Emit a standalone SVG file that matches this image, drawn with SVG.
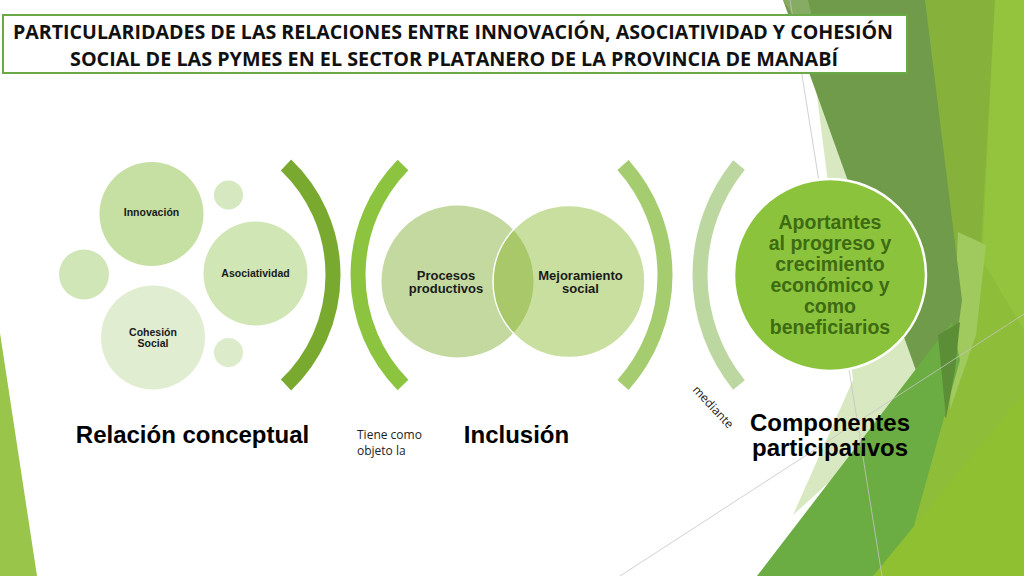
<svg xmlns="http://www.w3.org/2000/svg" width="1024" height="576" viewBox="0 0 1024 576">
  <defs>
    <style>
      .lbl { font-family: "Liberation Sans", Arial, sans-serif; font-weight: bold; fill: #1a1a1a; text-anchor: middle; }
      .big { font-family: "Liberation Sans", Arial, sans-serif; font-weight: bold; fill: #000; text-anchor: middle; font-size: 24px; }
      .small { font-family: "Open Sans", "DejaVu Sans", sans-serif; fill: #222; font-size: 12px; }
      .title { font-family: "Open Sans", "DejaVu Sans", sans-serif; font-weight: bold; fill: #111; font-size: 19.5px; }
      .arc { fill: none; stroke-width: 15; stroke-linecap: butt; }
      .bgline { stroke: #c4c4c4; stroke-width: 0.8; fill: none; }
    </style>
    <clipPath id="clipProc">
      <circle cx="457.5" cy="281.5" r="76"/>
    </clipPath>
  </defs>

  <rect width="1024" height="576" fill="#ffffff"/>

  <g id="background">
    <polygon points="0,333 37,576 0,576" fill="#98c54a"/>
    <polygon points="920,0 1024,0 1024,576 860,576" fill="#8ebd3a"/>
    <polygon points="920,0 995,0 978,300 958,310" fill="#86b23c"/>
    <polygon points="995,0 1024,0 1024,330 982,260" fill="#94c33d"/>
    <polygon points="958,232 986,245 976,335 950,410" fill="#a0c95e"/>
    <polygon points="815,80 860,80 925,395 793,515 853,380" fill="#d8e8c1"/>
    <polygon points="783,0 925,0 962,300 946,418 923,390" fill="#6f9b4b"/>
    <polygon points="783,0 808,0 822,60" fill="#86ab62"/>
    <polygon points="757,576 952,322 960,360 900,576" fill="#6cad43"/>
    <polygon points="938,335 960,322 955,370 946,418" fill="#5b8e36"/>
    <polygon points="873,576 1024,393 1024,576" fill="#8fc031"/>
    <line class="bgline" x1="790" y1="0" x2="882" y2="576"/>
    <line class="bgline" x1="620" y1="576" x2="1024" y2="314"/>
  </g>

  <g id="title">
    <rect x="3" y="15" width="904" height="58" fill="#ffffff" stroke="#6aaa46" stroke-width="2"/>
    <text class="title" x="13" y="39" textLength="880" lengthAdjust="spacingAndGlyphs">PARTICULARIDADES DE LAS RELACIONES ENTRE INNOVACIÓN, ASOCIATIVIDAD Y COHESIÓN</text>
    <text class="title" x="70" y="66" textLength="768" lengthAdjust="spacingAndGlyphs">SOCIAL DE LAS PYMES EN EL SECTOR PLATANERO DE LA PROVINCIA DE MANABÍ</text>
  </g>

  <g id="concept-cluster">
    <circle cx="228.5" cy="195" r="14.5" fill="#d5e8c0"/>
    <circle cx="84" cy="274.5" r="25" fill="#d0e6b7"/>
    <circle cx="228.5" cy="352.5" r="14.5" fill="#dcebc9"/>
  </g>

  <g id="innovacion">
    <circle cx="151.5" cy="214" r="52" fill="#c6e0a3"/>
    <text class="lbl" x="151.5" y="216" font-size="10.5">Innovación</text>
  </g>

  <g id="asociatividad">
    <circle cx="255.5" cy="273.5" r="52" fill="#d0e6b5"/>
    <text class="lbl" x="255.5" y="277" font-size="10.5">Asociatividad</text>
  </g>

  <g id="cohesion">
    <circle cx="153" cy="337.5" r="52" fill="#e0edd1"/>
    <text class="lbl" x="153" y="336" font-size="10.5">Cohesión</text>
    <text class="lbl" x="153" y="347" font-size="10.5">Social</text>
  </g>

  <g id="connectors">
    <path class="arc" stroke="#79aa2f" d="M286,165 A152.2,152.2 0 0 1 286,385"/>
    <path class="arc" stroke="#8cc43f" d="M403,165 A157,157 0 0 0 403,385"/>
    <path class="arc" stroke="#a5cd70" d="M623,165 A165,165 0 0 1 623,385"/>
    <path class="arc" stroke="#bcd8a0" d="M739,165 A174.6,174.6 0 0 0 739,385"/>
  </g>

  <g id="procesos">
    <circle cx="457.5" cy="281.5" r="76" fill="#c4d9a0"/>
  </g>
  <g id="mejoramiento">
    <circle cx="569" cy="281.5" r="76" fill="#c9df9f"/>
    <circle cx="569" cy="281.5" r="76" fill="#a8c86a" clip-path="url(#clipProc)"/>
    <circle cx="569" cy="281.5" r="76" fill="none" stroke="#ffffff" stroke-width="1.5"/>
  </g>
  <g id="venn-labels">
    <text class="lbl" x="446" y="280" font-size="13">Procesos</text>
    <text class="lbl" x="446" y="293" font-size="13">productivos</text>
    <text class="lbl" x="580.5" y="280" font-size="13">Mejoramiento</text>
    <text class="lbl" x="580.5" y="293" font-size="13">social</text>
  </g>

  <g id="aportantes">
    <circle cx="830" cy="275" r="96" fill="#8cc33d" stroke="#ffffff" stroke-width="2.5"/>
    <g class="lbl" style="fill:#3d6b12" font-size="19.5">
      <text x="830" y="229">Aportantes</text>
      <text x="830" y="250">al progreso y</text>
      <text x="830" y="271">crecimiento</text>
      <text x="830" y="292">económico y</text>
      <text x="830" y="313">como</text>
      <text x="830" y="334">beneficiarios</text>
    </g>
  </g>

  <g id="labels">
    <text class="big" x="192.5" y="443">Relación conceptual</text>
    <text class="small" x="357" y="439">Tiene como</text>
    <text class="small" x="357" y="455">objeto la</text>
    <text class="big" x="516.5" y="443">Inclusión</text>
    <text class="small" x="713" y="411" text-anchor="middle" font-size="12.5" transform="rotate(47 713 407)">mediante</text>
    <text class="big" x="830" y="431">Componentes</text>
    <text class="big" x="830" y="456">participativos</text>
  </g>
</svg>
